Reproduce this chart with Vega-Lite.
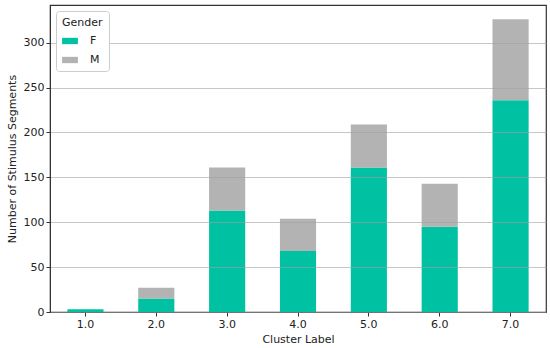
{
  "$schema": "https://vega.github.io/schema/vega-lite/v6.json",
  "width": 496,
  "height": 307,
  "autosize": {"type": "none"},
  "padding": {"left": 50, "top": 5, "right": 4, "bottom": 36},
  "config": {
    "font": "DejaVu Sans",
    "view": {"stroke": "#333333", "strokeWidth": 1.2},
    "axis": {"labelFont": "DejaVu Sans", "titleFont": "DejaVu Sans", "labelColor": "#222", "titleColor": "#222", "labelFontSize": 11, "titleFontSize": 11, "titleFontWeight": "normal", "tickColor": "#333", "domainColor": "#333"}
  },
  "data": {
    "values": [
      {"cluster": "1.0", "gender": "F", "count": 3},
      {"cluster": "1.0", "gender": "M", "count": 0},
      {"cluster": "2.0", "gender": "F", "count": 15},
      {"cluster": "2.0", "gender": "M", "count": 12},
      {"cluster": "3.0", "gender": "F", "count": 113},
      {"cluster": "3.0", "gender": "M", "count": 48},
      {"cluster": "4.0", "gender": "F", "count": 68},
      {"cluster": "4.0", "gender": "M", "count": 36},
      {"cluster": "5.0", "gender": "F", "count": 161},
      {"cluster": "5.0", "gender": "M", "count": 48},
      {"cluster": "6.0", "gender": "F", "count": 95},
      {"cluster": "6.0", "gender": "M", "count": 48},
      {"cluster": "7.0", "gender": "F", "count": 236},
      {"cluster": "7.0", "gender": "M", "count": 90}
    ]
  },
  "mark": {"type": "bar"},
  "encoding": {
    "x": {
      "field": "cluster", "type": "ordinal", "title": "Cluster Label",
      "scale": {"paddingInner": 0.49, "paddingOuter": 0.245},
      "axis": {"labelAngle": 0, "grid": false, "tickSize": 4, "titlePadding": 4}
    },
    "y": {
      "field": "count", "type": "quantitative", "aggregate": "sum", "stack": "zero",
      "title": "Number of Stimulus Segments",
      "scale": {"domain": [0, 342], "nice": false},
      "axis": {"values": [0, 50, 100, 150, 200, 250, 300], "grid": true, "gridColor": "#a0a0a0", "gridOpacity": 0.6, "gridWidth": 1.2, "tickSize": 4, "titlePadding": 6, "zindex": 1}
    },
    "color": {
      "field": "gender", "type": "nominal", "title": "Gender",
      "scale": {"domain": ["F", "M"], "range": ["#00c2a3", "#b3b3b3"]},
      "legend": {
        "orient": "top-left", "offset": 6, "padding": 6, "zindex": 2,
        "strokeColor": "#cccccc", "fillColor": "white", "cornerRadius": 3,
        "symbolType": "M-1,-0.4H1V0.4H-1Z", "symbolSize": 250, "symbolStrokeWidth": 0,
        "titleFontWeight": "normal", "titleFontSize": 11, "labelFontSize": 11, "titleColor": "#222", "labelColor": "#222", "labelOffset": 12, "rowPadding": 6
      }
    },
    "order": {"field": "gender", "sort": "ascending"}
  }
}
